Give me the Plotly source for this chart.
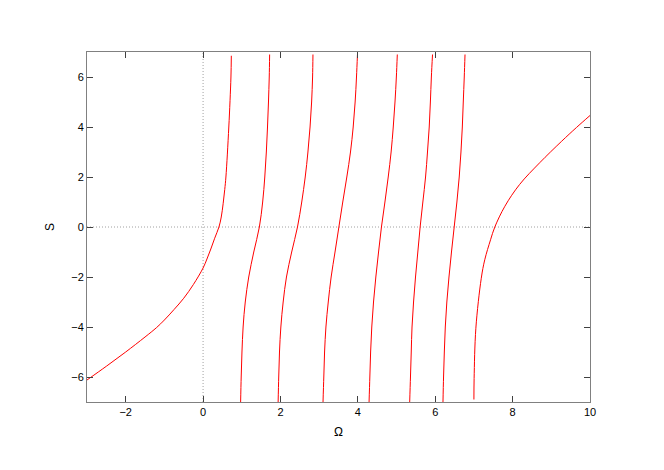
import plotly.graph_objects as go

# branches of S(omega)
omega_1 = [-3.0, -2.5, -2.0, -1.5, -1.2, -1.0, -0.75, -0.5, -0.25, 0.0, 0.1, 0.2, 0.3, 0.41, 0.47, 0.52, 0.56, 0.59, 0.665, 0.72, 0.73]
s_1 = [-6.12, -5.57, -5.0, -4.4, -4.02, -3.72, -3.3, -2.85, -2.3, -1.64, -1.28, -0.88, -0.45, 0.0, 0.4, 0.95, 1.5, 2.0, 4.0, 6.0, 6.85]

s_levels = [-7.0, -6.0, -5.0, -4.0, -3.0, -2.0, -1.0, 0.0, 1.0, 2.0, 3.0, 4.0, 5.0, 6.0, 6.9]
omega_2 = [0.97, 0.985, 1.005, 1.035, 1.09, 1.18, 1.31, 1.455, 1.54, 1.595, 1.635, 1.665, 1.69, 1.71, 1.72]
omega_3 = [1.94, 1.955, 1.975, 2.01, 2.07, 2.155, 2.29, 2.44, 2.55, 2.64, 2.71, 2.765, 2.805, 2.83, 2.84]
omega_4 = [3.10, 3.12, 3.14, 3.175, 3.235, 3.31, 3.41, 3.51, 3.61, 3.715, 3.81, 3.88, 3.93, 3.965, 3.99]
omega_5 = [4.29, 4.31, 4.33, 4.36, 4.405, 4.465, 4.535, 4.61, 4.70, 4.785, 4.86, 4.915, 4.96, 4.995, 5.02]
omega_6 = [5.34, 5.36, 5.38, 5.40, 5.44, 5.49, 5.55, 5.61, 5.68, 5.75, 5.80, 5.845, 5.875, 5.90, 5.93]
omega_7 = [6.20, 6.215, 6.235, 6.26, 6.30, 6.355, 6.42, 6.49, 6.56, 6.62, 6.665, 6.70, 6.725, 6.75, 6.77]

omega_8 = [7.00, 7.005, 7.05, 7.19, 7.28, 7.43, 7.54, 7.80, 8.18, 8.70, 9.26, 9.65, 10.0]
s_8 = [-6.9, -6.06, -4.05, -2.05, -1.31, -0.51, 0.0, 0.83, 1.70, 2.57, 3.42, 3.98, 4.46]

x_ticks = [-2, 0, 2, 4, 6, 8, 10]
y_ticks = [-6, -4, -2, 0, 2, 4, 6]

branches = [(omega_1, s_1), (omega_2, s_levels), (omega_3, s_levels), (omega_4, s_levels),
            (omega_5, s_levels), (omega_6, s_levels), (omega_7, s_levels), (omega_8, s_8)]

fig = go.Figure()
for om, s in branches:
    fig.add_trace(go.Scatter(x=om, y=s, mode='lines',
                             line=dict(color='#ff0000', width=1, shape='spline', smoothing=1),
                             showlegend=False, hoverinfo='x+y'))

# dotted zero axes
fig.add_shape(type='line', xref='x', yref='paper', x0=0, x1=0, y0=0, y1=1,
              line=dict(color='#a0a0a0', width=1, dash='1px,2px'), layer='below')
fig.add_shape(type='line', xref='paper', yref='y', x0=0, x1=1, y0=0, y1=0,
              line=dict(color='#a0a0a0', width=1, dash='1px,2px'), layer='below')

axis_style = dict(showgrid=False, zeroline=False, showline=True, linecolor='#808080', linewidth=1,
                  mirror='ticks', ticks='inside', ticklen=6, tickcolor='#404040',
                  tickfont=dict(family='Liberation Sans', size=11, color='black'))

# page body has an 8px margin, so the figure is a bit smaller than the window
fig.update_layout(
    width=656, height=462,
    margin=dict(l=79, r=74, t=44, b=68),
    paper_bgcolor='white', plot_bgcolor='white',
    xaxis=dict(range=[-3, 10], tickvals=x_ticks, title=dict(text='Ω', standoff=10,
               font=dict(family='Liberation Sans', size=12, color='black')), **axis_style),
    yaxis=dict(range=[-7, 7], tickvals=y_ticks, title=dict(text='S', standoff=14,
               font=dict(family='Liberation Sans', size=12, color='black')), **axis_style),
)

fig.write_html("out.html")
